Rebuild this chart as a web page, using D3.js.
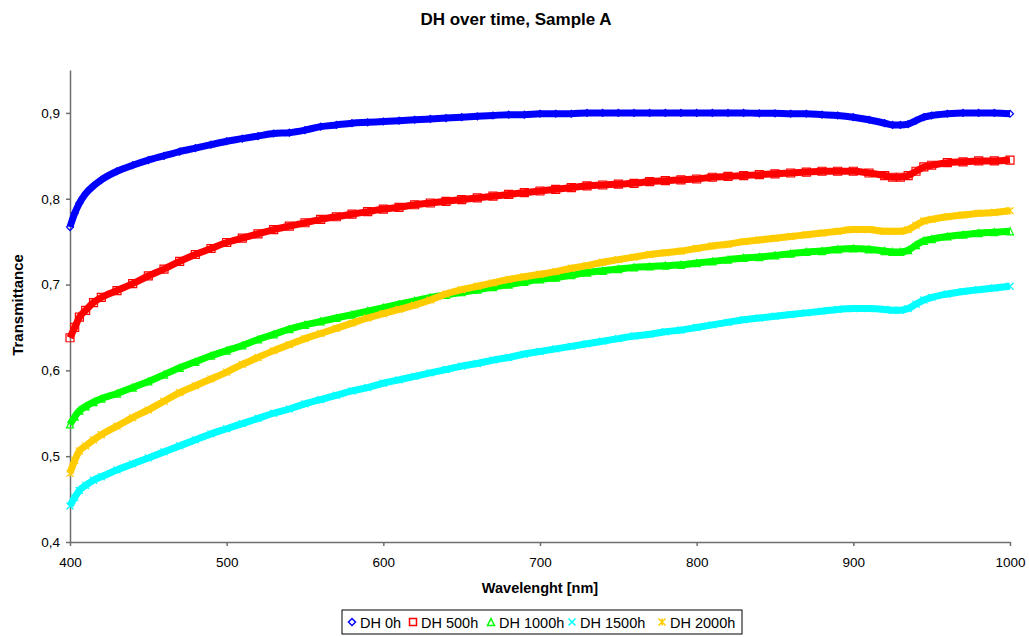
<!DOCTYPE html>
<html><head><meta charset="utf-8">
<script src="https://cdn.jsdelivr.net/npm/d3@7"></script>
<style>body{margin:0;background:#fff;font-family:"Liberation Sans",Arial,sans-serif;}</style>
</head><body><svg id="c" width="1029" height="637"></svg>
<script>
const wavelengths = [400,403,406,410,415,420,430,440,450,460,470,480,490,500,510,520,530,540,550,560,570,580,590,600,610,620,630,640,650,660,670,680,690,700,710,720,730,740,750,760,770,780,790,800,810,820,830,840,850,860,870,880,890,900,910,920,925,930,935,940,945,950,960,970,980,990,1000];
const dh0 = [0.767,0.783,0.795,0.806,0.815,0.822,0.832,0.839,0.845,0.850,0.855,0.859,0.863,0.867,0.870,0.873,0.876,0.877,0.880,0.884,0.886,0.888,0.889,0.890,0.891,0.892,0.893,0.894,0.895,0.896,0.897,0.898,0.898,0.899,0.899,0.899,0.900,0.900,0.900,0.900,0.900,0.900,0.900,0.900,0.900,0.900,0.900,0.8995,0.8995,0.899,0.899,0.898,0.897,0.895,0.892,0.888,0.886,0.886,0.887,0.891,0.895,0.897,0.899,0.900,0.900,0.900,0.899];
const dh500 = [0.638,0.650,0.662,0.670,0.679,0.685,0.693,0.701,0.710,0.718,0.727,0.735,0.742,0.749,0.754,0.759,0.764,0.768,0.772,0.776,0.779,0.782,0.785,0.788,0.790,0.793,0.795,0.797,0.799,0.801,0.803,0.805,0.807,0.809,0.811,0.813,0.815,0.816,0.817,0.818,0.820,0.821,0.822,0.823,0.825,0.826,0.827,0.828,0.829,0.830,0.831,0.832,0.832,0.832,0.830,0.827,0.825,0.825,0.827,0.832,0.837,0.839,0.842,0.843,0.844,0.844,0.845];
const dh1000 = [0.537,0.546,0.553,0.558,0.563,0.567,0.573,0.580,0.587,0.595,0.603,0.610,0.617,0.623,0.629,0.636,0.642,0.648,0.653,0.657,0.661,0.665,0.669,0.673,0.677,0.681,0.685,0.688,0.691,0.694,0.697,0.700,0.703,0.706,0.708,0.711,0.714,0.716,0.718,0.720,0.721,0.722,0.723,0.725,0.727,0.729,0.731,0.732,0.734,0.736,0.738,0.739,0.741,0.742,0.741,0.739,0.738,0.738,0.740,0.746,0.751,0.753,0.756,0.758,0.760,0.761,0.762];
const dh1500 = [0.442,0.452,0.460,0.466,0.472,0.476,0.484,0.491,0.498,0.505,0.512,0.519,0.526,0.532,0.538,0.544,0.550,0.555,0.561,0.566,0.571,0.576,0.580,0.585,0.589,0.593,0.597,0.601,0.605,0.608,0.612,0.615,0.619,0.622,0.625,0.628,0.631,0.634,0.637,0.640,0.642,0.645,0.647,0.650,0.653,0.656,0.659,0.661,0.663,0.665,0.667,0.669,0.671,0.672,0.672,0.671,0.670,0.670,0.672,0.677,0.682,0.685,0.689,0.692,0.694,0.696,0.698];
const dh2000 = [0.480,0.495,0.506,0.512,0.519,0.525,0.535,0.545,0.554,0.564,0.574,0.582,0.590,0.598,0.607,0.615,0.623,0.630,0.637,0.643,0.649,0.655,0.661,0.666,0.671,0.676,0.682,0.689,0.694,0.698,0.702,0.706,0.709,0.712,0.715,0.719,0.722,0.726,0.729,0.732,0.735,0.737,0.739,0.742,0.745,0.747,0.750,0.752,0.754,0.756,0.758,0.760,0.762,0.764,0.764,0.762,0.762,0.762,0.764,0.769,0.774,0.776,0.779,0.781,0.783,0.784,0.786];
const seriesNames = ["DH 0h","DH 500h","DH 1000h","DH 1500h","DH 2000h"];
const seriesColors = ["#0000ff","#ff0000","#00ff00","#00ffff","#ffcc00"];
const xTicks = [400,500,600,700,800,900,1000];
const yTicks = [0.4,0.5,0.6,0.7,0.8,0.9];

const seriesValues = [dh0, dh500, dh1000, dh1500, dh2000];
const svg = d3.select("#c");
const x = d3.scaleLinear().domain([400,1000]).range([70,1010]);
const y = d3.scaleLinear().domain([0.4,0.95]).range([542,70]);
const axisColor = "#6e6e6e";
const fmt = v => v.toFixed(1).replace(".", ",");

// axes
const gx = svg.append("g").attr("transform","translate(0,542)")
  .call(d3.axisBottom(x).tickValues(xTicks).tickFormat(d3.format("d")).tickSize(4).tickSizeOuter(0).tickPadding(11));
const gy = svg.append("g").attr("transform","translate(70,0)")
  .call(d3.axisLeft(y).tickValues(yTicks).tickFormat(fmt).tickSize(4).tickSizeOuter(0).tickPadding(6));
[gx,gy].forEach(g=>{
  g.selectAll("path,line").attr("stroke",axisColor).attr("stroke-width",1.5);
  g.selectAll("text").attr("font-size",13.5).attr("font-family","Liberation Sans, Arial, sans-serif").attr("fill","#000");
});

// markers
function markerPath(i, s){
  const h = s/2;
  switch(i){
    case 0: return `M0,${-h}L${h},0L0,${h}L${-h},0Z`;
    case 1: return `M${-h},${-h}H${h}V${h}H${-h}Z`;
    case 2: return `M0,${-h}L${h},${h}L${-h},${h}Z`;
    case 3: return `M${-h},${-h}L${h},${h}M${h},${-h}L${-h},${h}`;
    default: return `M${-h},${-h}L${h},${h}M${h},${-h}L${-h},${h}M0,${-h}V${h}`;
  }
}

const line = d3.line().x(d=>x(d[0])).y(d=>y(d[1])).curve(d3.curveMonotoneX);
const plot = svg.append("g");
seriesValues.forEach((vals,i)=>{
  const pts = wavelengths.map((w,k)=>[w, vals[k]]);
  plot.append("path").attr("d", line(pts)).attr("fill","none")
    .attr("stroke", seriesColors[i]).attr("stroke-width", 7).attr("stroke-linejoin","round");
  plot.append("g").selectAll("path").data(pts).join("path")
    .attr("transform", d=>`translate(${x(d[0])},${y(d[1])})`)
    .attr("d", markerPath(i, i===1?8:7)).attr("fill","none")
    .attr("stroke", seriesColors[i]).attr("stroke-width", 1.2);
});

// titles
svg.append("text").attr("x",516).attr("y",25).attr("text-anchor","middle")
  .attr("font-weight","bold").attr("font-size",17).text("DH over time, Sample A");
svg.append("text").attr("x",540).attr("y",593).attr("text-anchor","middle")
  .attr("font-weight","bold").attr("font-size",14.5).text("Wavelenght [nm]");
svg.append("text").attr("transform","translate(23,305) rotate(-90)").attr("text-anchor","middle")
  .attr("font-weight","bold").attr("font-size",15).text("Transmittance");

// legend
const lg = svg.append("g");
lg.append("rect").attr("x",342).attr("y",610).attr("width",400).attr("height",24)
  .attr("fill","#fff").attr("stroke","#000").attr("stroke-width",1);
const legMarkX = [352, 413, 491, 572, 662];
seriesNames.forEach((n,i)=>{
  lg.append("path").attr("transform",`translate(${legMarkX[i]},622)`).attr("d", markerPath(i,7))
    .attr("fill","none").attr("stroke",seriesColors[i]).attr("stroke-width",1.5);
  lg.append("text").attr("x",legMarkX[i]+8).attr("y",627.5).attr("font-size",14.5).text(n);
});
</script></body></html>
